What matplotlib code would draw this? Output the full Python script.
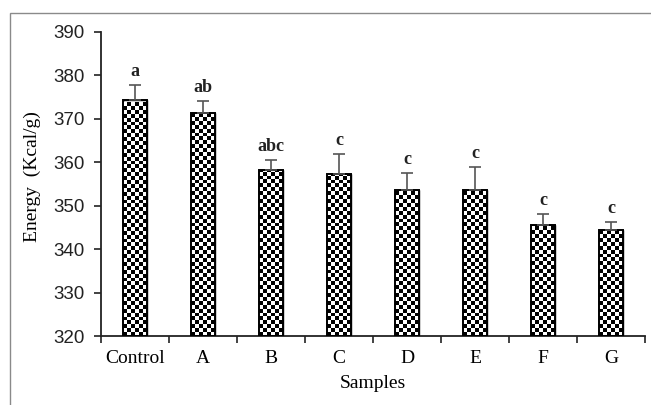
import numpy as np
import matplotlib
matplotlib.use("Agg")
from matplotlib import pyplot as plt
from matplotlib.patches import Rectangle

# =============================================================================
# Data:
# =============================================================================

samples = ["Control", "A", "B", "C", "D", "E", "F", "G"]
energy = [374.3, 371.4, 358.3, 357.4, 353.7, 353.7, 345.5, 344.5]
errors = [3.6, 2.8, 2.2, 4.6, 3.9, 5.2, 2.7, 1.8]
letters = ["a", "ab", "abc", "c", "c", "c", "c", "c"]

SERIF = "Liberation Serif"
SANS = "Liberation Sans"
BAR_WIDTH = 0.35
CELL_PX = 3.9

fig = plt.figure(figsize=(6.51, 4.05), dpi=100)
ax = fig.add_axes([0.155, 0.170, 0.836, 0.751])

# outer frame of the picture
fig.patches.append(Rectangle((10 / 651, -0.05), 1.1, 1 - 13 / 405 + 0.05,
                             transform=fig.transFigure, fill=False,
                             edgecolor="#8a8a8a", linewidth=1.0))

x = np.arange(len(samples))
bars = ax.bar(x, energy, width=BAR_WIDTH, bottom=0, color="white",
              edgecolor="black", linewidth=1.0, zorder=2)

ax.set_xlim(-0.5, len(samples) - 0.5)
ax.set_ylim(320, 390)

# checkerboard fill, clipped to each bar
ppd_x = ax.get_position().width * 651 / (len(samples))
ppd_y = ax.get_position().height * 405 / 70
for bar, val in zip(bars, energy):
    x0 = bar.get_x()
    w = bar.get_width()
    ncol = max(1, int(round(w * ppd_x / CELL_PX)))
    nrow = max(1, int(round((val - 320) * ppd_y / CELL_PX)))
    board = (np.indices((nrow, ncol)).sum(axis=0) % 2).astype(float)
    im = ax.imshow(board, cmap="gray", extent=(x0, x0 + w, 320, 320 + nrow * CELL_PX / ppd_y),
                   origin="lower", interpolation="nearest", aspect="auto", zorder=2.5)
    im.set_clip_path(bar)
    ax.add_patch(Rectangle((x0, 320), w, val - 320, fill=False,
                           edgecolor="black", linewidth=1.4, zorder=3))

ax.set_xlim(-0.5, len(samples) - 0.5)
ax.set_ylim(320, 390)

ax.errorbar(x, energy, yerr=[np.zeros(len(errors)), errors], fmt="none",
            ecolor="#555555", elinewidth=1.2, capsize=4, capthick=1.2, zorder=4)

for xi, val, err, lab in zip(x, energy, errors, letters):
    ax.text(xi, val + err + 1.1, lab, ha="center", va="bottom",
            fontsize=13, fontweight="bold", family=SERIF, color="#222222")

# axes styling
for side in ["top", "right"]:
    ax.spines[side].set_visible(False)
for side in ["left", "bottom"]:
    ax.spines[side].set_color("#222222")
    ax.spines[side].set_linewidth(1.3)

ax.set_yticks(np.arange(320, 391, 10))
ax.set_yticklabels([str(v) for v in range(320, 391, 10)], family=SANS, fontsize=13.5)
ax.tick_params(axis="y", direction="out", length=5, width=1.2, pad=7, colors="#222222")

ax.set_xticks(x)
ax.set_xticklabels(samples, family=SERIF, fontsize=14)
ax.set_xticks(np.arange(-0.5, len(samples), 1.0), minor=True)
ax.tick_params(axis="x", which="major", length=0, pad=10)
ax.tick_params(axis="x", which="minor", direction="out", length=5, width=1.2, colors="#222222")

ax.set_xlabel("Samples", family=SERIF, fontsize=14, labelpad=6)
ax.set_ylabel("Energy  (Kcal/g)", family=SERIF, fontsize=14)
ax.yaxis.set_label_coords(-0.110, 0.5 + 8 / 304)

fig.savefig("out.png", dpi=100)
